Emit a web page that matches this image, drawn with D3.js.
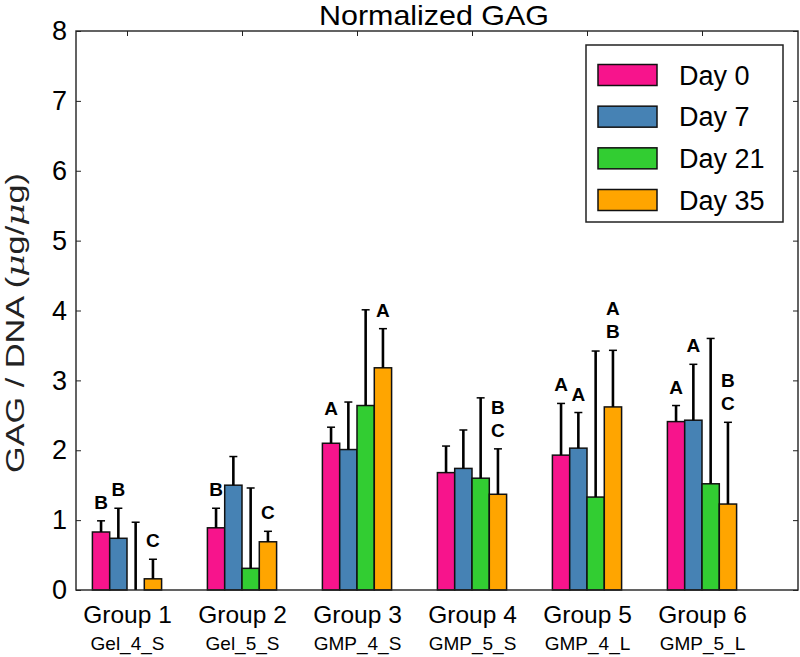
<!DOCTYPE html>
<html><head><meta charset="utf-8">
<script src="https://cdn.jsdelivr.net/npm/d3@7"></script>
<style>body{margin:0;background:#fff}svg{display:block}text{font-family:"Liberation Sans",Arial,Helvetica,sans-serif}</style>
</head><body><svg id="c" width="800" height="657"></svg>
<script>
const title = "Normalized GAG";
const yTitleParts = ["GAG / DNA (", "\u03BC", "g/", "\u03BC", "g)"];
const groups = ["Group 1","Group 2","Group 3","Group 4","Group 5","Group 6"];
const subLabels = ["Gel_4_S","Gel_5_S","GMP_4_S","GMP_5_S","GMP_4_L","GMP_5_L"];
const days = ["Day 0","Day 7","Day 21","Day 35"];
const colors = ["#F7148C","#4682B4","#32CD32","#FFA500"];
const day0 = [0.83,0.89,2.10,1.68,1.93,2.41];
const day7 = [0.74,1.50,2.01,1.74,2.03,2.43];
const day21 = [0.00,0.31,2.64,1.60,1.33,1.52];
const day35 = [0.16,0.69,3.18,1.37,2.62,1.23];
const day0Sd = [0.16,0.28,0.23,0.38,0.74,0.23];
const day7Sd = [0.43,0.41,0.68,0.55,0.51,0.80];
const day21Sd = [0.97,1.15,1.37,1.15,2.09,2.08];
const day35Sd = [0.28,0.15,0.56,0.65,0.81,1.17];
const day0Letters = [["B"],["B"],["A"],[],["A"],["A"]];
const day7Letters = [["B"],[],[],[],["A"],["A"]];
const day21Letters = [[],[],[],[],[],[]];
const day35Letters = [["C"],["C"],["A"],["B","C"],["A","B"],["B","C"]];
const yTicks = [0,1,2,3,4,5,6,7,8];

const values = [day0,day7,day21,day35];
const sds = [day0Sd,day7Sd,day21Sd,day35Sd];
const letters = [day0Letters,day7Letters,day21Letters,day35Letters];

const L=76,R=798,T=31,B=590;
const svg = d3.select("#c");
const y = d3.scaleLinear().domain([0,8]).range([B,T]);
const xg = d3.scalePoint().domain(groups).range([127,702]);
const xb = d3.scaleBand().domain(days).range([-34.6,34.6]);
const bw = xb.bandwidth();

// title
svg.append("text").attr("x",434).attr("y",25).attr("text-anchor","middle")
  .attr("font-size",28).attr("fill","#000").attr("textLength",230).attr("lengthAdjust","spacingAndGlyphs").text(title);

// y title
const yt = svg.append("text").attr("transform","translate(24,323) rotate(-90)").attr("text-anchor","middle")
  .attr("font-size",25).attr("fill","#222").attr("textLength",300).attr("lengthAdjust","spacingAndGlyphs");
yTitleParts.forEach((p,i)=>yt.append("tspan").attr("font-style",i%2===1?"italic":"normal")
  .attr("font-family",i%2===1?"DejaVu Serif, serif":null).text(p));

// bars
const data=[];
groups.forEach((g,gi)=>days.forEach((d,di)=>data.push({g,d,di,v:values[di][gi],sd:sds[di][gi],lab:letters[di][gi]})));
const cx = o=>xg(o.g)+xb(o.d)+bw/2;

svg.append("g").selectAll("rect").data(data).join("rect")
  .attr("x",o=>xg(o.g)+xb(o.d)).attr("width",bw)
  .attr("y",o=>y(o.v)).attr("height",o=>y(0)-y(o.v))
  .attr("fill",o=>colors[o.di]).attr("stroke","#111").attr("stroke-width",1.5);

// error bars
const eg = svg.append("g").attr("stroke","#000");
eg.selectAll("line.v").data(data).join("line").attr("class","v")
  .attr("x1",cx).attr("x2",cx).attr("y1",o=>y(o.v)).attr("y2",o=>y(o.v+o.sd)).attr("stroke-width",2.6);
eg.selectAll("line.c").data(data).join("line").attr("class","c")
  .attr("x1",o=>cx(o)-4).attr("x2",o=>cx(o)+4).attr("y1",o=>y(o.v+o.sd)).attr("y2",o=>y(o.v+o.sd)).attr("stroke-width",1.5);

// letters
const lg = svg.append("g");
data.forEach(o=>{
  const n=o.lab.length;
  o.lab.forEach((t,i)=>{
    lg.append("text").attr("x",cx(o)).attr("y",y(o.v+o.sd)-12-(n-1-i)*23)
      .attr("text-anchor","middle").attr("font-size",19).attr("font-weight","bold").text(t);
  });
});

// frame
svg.append("rect").attr("x",L).attr("y",T).attr("width",R-L).attr("height",B-T)
  .attr("fill","none").attr("stroke","#222").attr("stroke-width",1.4);

// y axis left
const yAx = svg.append("g").attr("transform",`translate(${L},0)`)
  .call(d3.axisLeft(y).tickValues(yTicks).tickFormat(d3.format("d")).tickSize(-5).tickPadding(9));
yAx.select(".domain").remove();
yAx.selectAll("text").attr("font-size",27).attr("fill","#000").attr("font-family","Liberation Sans, Arial, sans-serif");
yAx.selectAll("line").attr("stroke","#222");
// y axis right ticks
const yAxR = svg.append("g").attr("transform",`translate(${R},0)`)
  .call(d3.axisRight(y).tickValues(yTicks).tickSize(-5).tickFormat(""));
yAxR.select(".domain").remove();
yAxR.selectAll("line").attr("stroke","#222");
// top ticks
const xTop = svg.append("g").attr("transform",`translate(0,${T})`)
  .call(d3.axisTop(xg).tickSize(-5).tickFormat(""));
xTop.select(".domain").remove();
xTop.selectAll("line").attr("stroke","#222");

// bottom labels
const xBot = svg.append("g").attr("transform",`translate(0,${B})`)
  .call(d3.axisBottom(xg).tickSize(0).tickPadding(0).tickFormat(""));
xBot.select(".domain").remove();
xBot.selectAll(".tick").append("text").attr("y",33).attr("text-anchor","middle")
  .attr("font-size",24.5).attr("fill","#000").attr("font-family","Liberation Sans, Arial, sans-serif").text(d=>d);
xBot.selectAll(".tick").append("text").attr("y",60).attr("text-anchor","middle")
  .attr("font-size",19).attr("fill","#000").attr("font-family","Liberation Sans, Arial, sans-serif").text((d,i)=>subLabels[i]);

// legend
const leg = svg.append("g");
leg.append("rect").attr("x",586).attr("y",45).attr("width",197).attr("height",177)
  .attr("fill","#fff").attr("stroke","#222").attr("stroke-width",1.5);
const ly = d3.scalePoint().domain(days).range([75,200]);
days.forEach((d,i)=>{
  leg.append("rect").attr("x",598).attr("y",ly(d)-10.5).attr("width",59).attr("height",21)
    .attr("fill",colors[i]).attr("stroke","#111").attr("stroke-width",1.5);
  leg.append("text").attr("x",679).attr("y",ly(d)+9.5).attr("font-size",27).attr("fill","#000").text(d);
});
</script></body></html>
